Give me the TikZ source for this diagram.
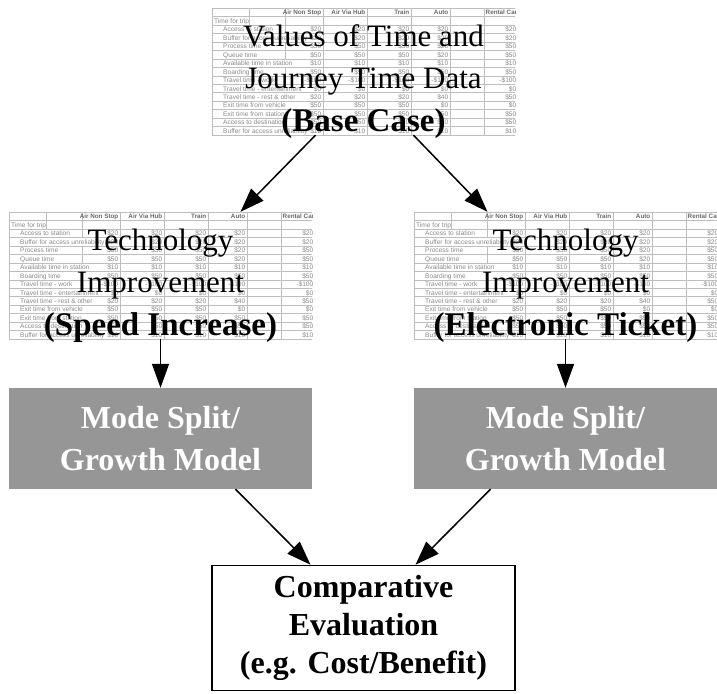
\documentclass[tikz,border=0pt]{standalone}
\usepackage{fontspec}
\setmainfont{Liberation Serif}
\setsansfont{Liberation Sans}
\usetikzlibrary{arrows.meta}
\definecolor{boxgray}{RGB}{150,150,150}
\definecolor{gridgray}{RGB}{190,190,190}
\definecolor{cellgray}{RGB}{138,138,138}
\definecolor{headgray}{RGB}{105,105,105}

% screenshot of the value table, top left corner at (0,0)
\newcommand{\valuetable}{%
  \clip (0,0) rectangle (303,127);
  % grid
  \foreach \r in {0,...,15}
    \draw[gridline] (0,{\r*8.47}) -- (310,{\r*8.47});
  \foreach \c in {0,111,155,199,238,272}
    \draw[gridline] (\c,0) -- (\c,127);
  \foreach \r in {0,1,2,4,5,7}
    \draw[gridline] (73,{\r*8.47}) -- (73,{(\r+1)*8.47});
  \draw[gridline] (37,0) -- (37,{2*8.47});
  % header
  \foreach \hd/\x in {Air Non Stop/109.5, Air Via Hub/153.5, Train/197.5, Auto/236.5}
    \node[headcell] at (\x,6.8) {\hd};
  \node[headcell, anchor=base west] at (273.5,6.8) {Rental Car};
  \node[rowlabel] at (2,{2*8.47-1.7}) {Time for trip};
  % rows
  \foreach \lbl/\va/\vb/\vc/\vd/\ve [count=\r from 2] in {
      Access to station/\$20/\$20/\$20/\$20/\$20,
      Buffer for access unreliability/\$20/\$20/\$20/\$20/\$20,
      Process time/\$50/\$50/\$50/\$20/\$50,
      Queue time/\$50/\$50/\$50/\$20/\$50,
      Available time in station/\$10/\$10/\$10/\$10/\$10,
      Boarding time/\$50/\$50/\$50/\$50/\$50,
      Travel time - work/-\$100/-\$100/-\$100/-\$100/-\$100,
      Travel time - entertainment/\$0/\$0/\$0/\$0/\$0,
      Travel time - rest \& other/\$20/\$20/\$20/\$40/\$50,
      Exit time from vehicle/\$50/\$50/\$50/\$0/\$0,
      Exit time from station/\$50/\$50/\$50/\$50/\$50,
      Access to destination/\$50/\$50/\$50/\$50/\$50,
      Buffer for access unreliability/\$10/\$10/\$10/\$10/\$10}{
    \node[rowlabel] at (11,{(\r+1)*8.47-1.7}) {\lbl};
    \foreach \v/\x in {\va/109.5,\vb/153.5,\vc/197.5,\vd/236.5,\ve/304.5}
      \node[valcell] at (\x,{(\r+1)*8.47-1.7}) {\v};
  }%
}

\begin{document}
\begin{tikzpicture}[x=1pt, y=-1pt, >={Triangle[length=24pt,width=17pt]},
    gridline/.style={draw=gridgray, line width=0.5pt},
    headcell/.style={anchor=base east, inner sep=0pt, text=headgray, font=\sffamily\bfseries\fontsize{6.3}{7}\selectfont},
    rowlabel/.style={anchor=base west, inner sep=0pt, text=cellgray, font=\sffamily\fontsize{6.6}{7}\selectfont},
    valcell/.style={rowlabel, anchor=base east},
    tablearea/.style={minimum width=303pt, minimum height=127pt, inner sep=0pt},
    biglabel/.style={align=center, inner sep=0pt, font=\fontsize{31}{42.5}\selectfont},
    splitbox/.style={fill=boxgray, text=white, align=center, minimum width=303pt, minimum height=101pt, inner sep=0pt, font=\bfseries\fontsize{32}{42}\selectfont},
    evalbox/.style={draw, line width=1.6pt, align=center, minimum width=303pt, minimum height=125pt, inner sep=0pt, font=\bfseries\fontsize{32}{38}\selectfont},
    flow/.style={->, line width=1.5pt}]
	\useasboundingbox (0,0) rectangle (717,693);
	% tables behind the labels
	\begin{scope}[shift={(212,8)}]
		\valuetable
	\end{scope}
	\begin{scope}[shift={(9,212)}]
		\valuetable
	\end{scope}
	\begin{scope}[shift={(414,212)}]
		\valuetable
	\end{scope}
	% table nodes
	\node[tablearea] (base) at (363.5,71.5) {};
	\node[tablearea] (speed) at (160.5,275.5) {};
	\node[tablearea] (ticket) at (565.5,275.5) {};
	\node[biglabel] (baselbl) at ([yshift=-10pt]base.center) {Values of Time and\\Journey Time Data\\{\bfseries\fontsize{33}{42.5}\selectfont (Base Case)}};
	\node[biglabel] (speedlbl) at ([yshift=-10pt]speed.center) {Technology\\Improvement\\{\bfseries\fontsize{33}{42.5}\selectfont (Speed Increase)}};
	\node[biglabel] (ticketlbl) at ([yshift=-10pt]ticket.center) {Technology\\Improvement\\{\bfseries\fontsize{33}{42.5}\selectfont (Electronic Ticket)}};
	% models
	\node[splitbox] (splitA) at (160.5,438.5) {Mode Split/\\Growth Model};
	\node[splitbox] (splitB) at (565.5,438.5) {Mode Split/\\Growth Model};
	\node[evalbox] (eval) at (363.5,628) {Comparative\\Evaluation\\(e.g. Cost/Benefit)};
	% arrows
	\draw[flow] ([xshift=-48pt]base.south) -- ([xshift=80pt]speed.north);
	\draw[flow] ([xshift=50pt]base.south) -- ([xshift=-78pt]ticket.north);
	\draw[flow] (speed.south) -- (splitA.north);
	\draw[flow] (ticket.south) -- (splitB.north);
	\draw[flow] ([xshift=75pt]splitA.south) -- ([xshift=-53pt]eval.north);
	\draw[flow] ([xshift=-75pt]splitB.south) -- ([xshift=52pt]eval.north);
\end{tikzpicture}
\end{document}
